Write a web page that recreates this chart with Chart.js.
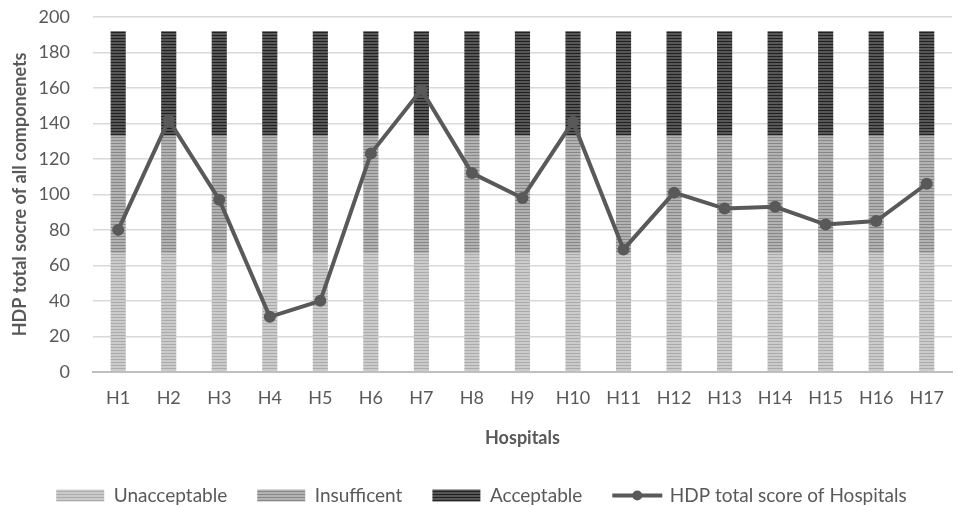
<!DOCTYPE html>
<html>
<head>
<meta charset="utf-8">
<script src="https://cdn.jsdelivr.net/npm/chart.js@4.4.0/dist/chart.umd.min.js"></script>
<style>
  html, body { margin: 0; padding: 0; background: #fff; }
  #wrap { width: 958px; height: 507px; }
</style>
</head>
<body>
<div id="wrap"><canvas id="grafico"></canvas></div>
<script>
// dados
var hospitais = ["H1", "H2", "H3", "H4", "H5", "H6", "H7", "H8", "H9", "H10", "H11", "H12", "H13", "H14", "H15", "H16", "H17"];
var unacceptable = [67, 67, 67, 67, 67, 67, 67, 67, 67, 67, 67, 67, 67, 67, 67, 67, 67];
var insufficent = [66, 66, 66, 66, 66, 66, 66, 66, 66, 66, 66, 66, 66, 66, 66, 66, 66];
var acceptable = [59, 59, 59, 59, 59, 59, 59, 59, 59, 59, 59, 59, 59, 59, 59, 59, 59];
var totalScore = [80, 142, 97, 31, 40, 123, 159, 112, 98, 141, 69, 101, 92, 93, 83, 85, 106];

var fonte = "Lato, 'Open Sans', sans-serif";

// cria um padrão de listras horizontais
function listras(corA, corB) {
    var c = document.createElement("canvas");
    c.width = 4;
    c.height = 3;
    var ctx = c.getContext("2d");
    ctx.fillStyle = corA;
    ctx.fillRect(0, 0, 4, 3);
    ctx.fillStyle = corB;
    ctx.fillRect(0, 2, 4, 1);
    return ctx.createPattern(c, "repeat");
}

var padraoUnacc = listras("#cbcbcb", "#ababab");
var padraoInsuf = listras("#b2b2b2", "#888888");
var padraoAcc = listras("#575757", "#222222");

// desenha a linha com o ponto na legenda
var legendaLinha = {
    id: "legendaLinha",
    afterDraw: function (chart) {
        var lg = chart.legend;
        if (!lg || !lg.legendHitBoxes) return;
        var box = lg.legendHitBoxes[3];
        if (!box) return;
        var ctx = chart.ctx;
        var y = box.top + box.height / 2;
        var x0 = box.left;
        var x1 = box.left + 50;
        ctx.save();
        ctx.strokeStyle = "#595959";
        ctx.lineWidth = 4;
        ctx.beginPath();
        ctx.moveTo(x0, y);
        ctx.lineTo(x1, y);
        ctx.stroke();
        ctx.fillStyle = "#595959";
        ctx.beginPath();
        ctx.arc((x0 + x1) / 2, y, 5, 0, Math.PI * 2);
        ctx.fill();
        ctx.restore();
    }
};

function setupChart() {
    var el = document.getElementById("grafico");
    new Chart(el, {
        type: "bar",
        data: {
            labels: hospitais,
            datasets: [
                {
                    label: "Unacceptable",
                    data: unacceptable,
                    backgroundColor: padraoUnacc,
                    stack: "s",
                    order: 2,
                    barPercentage: 0.3,
                    categoryPercentage: 1
                },
                {
                    label: "Insufficent",
                    data: insufficent,
                    backgroundColor: padraoInsuf,
                    stack: "s",
                    order: 2,
                    barPercentage: 0.3,
                    categoryPercentage: 1
                },
                {
                    label: "Acceptable",
                    data: acceptable,
                    backgroundColor: padraoAcc,
                    stack: "s",
                    order: 2,
                    barPercentage: 0.3,
                    categoryPercentage: 1
                },
                {
                    type: "line",
                    label: "HDP total score of Hospitals",
                    data: totalScore,
                    stack: "linha",
                    order: 1,
                    borderColor: "#595959",
                    backgroundColor: "#595959",
                    borderWidth: 4,
                    pointRadius: 6,
                    pointBackgroundColor: "#595959",
                    pointBorderWidth: 0,
                    tension: 0
                }
            ]
        },
        options: {
            responsive: true,
            maintainAspectRatio: false,
            animation: false,
            layout: { padding: { top: 17, right: 0, left: 5, bottom: -8 } },
            plugins: {
                tooltip: { enabled: false },
                legend: {
                    position: "bottom",
                    labels: {
                        boxWidth: 48,
                        boxHeight: 12,
                        padding: 30,
                        color: "#595959",
                        font: { family: fonte, size: 19 },
                        sort: function (a, b) { return a.datasetIndex - b.datasetIndex; },
                        generateLabels: function (chart) {
                            var itens = Chart.defaults.plugins.legend.labels.generateLabels(chart);
                            itens.forEach(function (it) {
                                it.lineWidth = 0;
                                if (it.datasetIndex === 3) {
                                    it.fillStyle = "rgba(0,0,0,0)";
                                    it.strokeStyle = "rgba(0,0,0,0)";
                                }
                            });
                            return itens;
                        }
                    }
                }
            },
            scales: {
                x: {
                    stacked: true,
                    grid: { display: false },
                    border: { color: "#bfbfbf", width: 2 },
                    ticks: { color: "#595959", padding: 8, font: { family: fonte, size: 18 } },
                    afterFit: function (scale) { scale.paddingRight = 0; },
                    title: {
                        display: true,
                        text: "Hospitals",
                        color: "#595959",
                        font: { family: fonte, size: 18, weight: "bold" },
                        padding: { top: 10, bottom: 7 }
                    }
                },
                y: {
                    stacked: true,
                    min: 0,
                    max: 200,
                    ticks: { stepSize: 20, color: "#595959", padding: 4, font: { family: fonte, size: 18 } },
                    grid: { color: "#d9d9d9", lineWidth: 1.5, drawTicks: true, tickLength: 19, tickColor: "rgba(0,0,0,0)" },
                    border: { display: false },
                    title: {
                        display: true,
                        text: "HDP total socre of all componenets",
                        color: "#595959",
                        font: { family: fonte, size: 18, weight: "bold" }
                    }
                }
            }
        },
        plugins: [legendaLinha]
    });
}

window.addEventListener("load", setupChart);
</script>
</body>
</html>
